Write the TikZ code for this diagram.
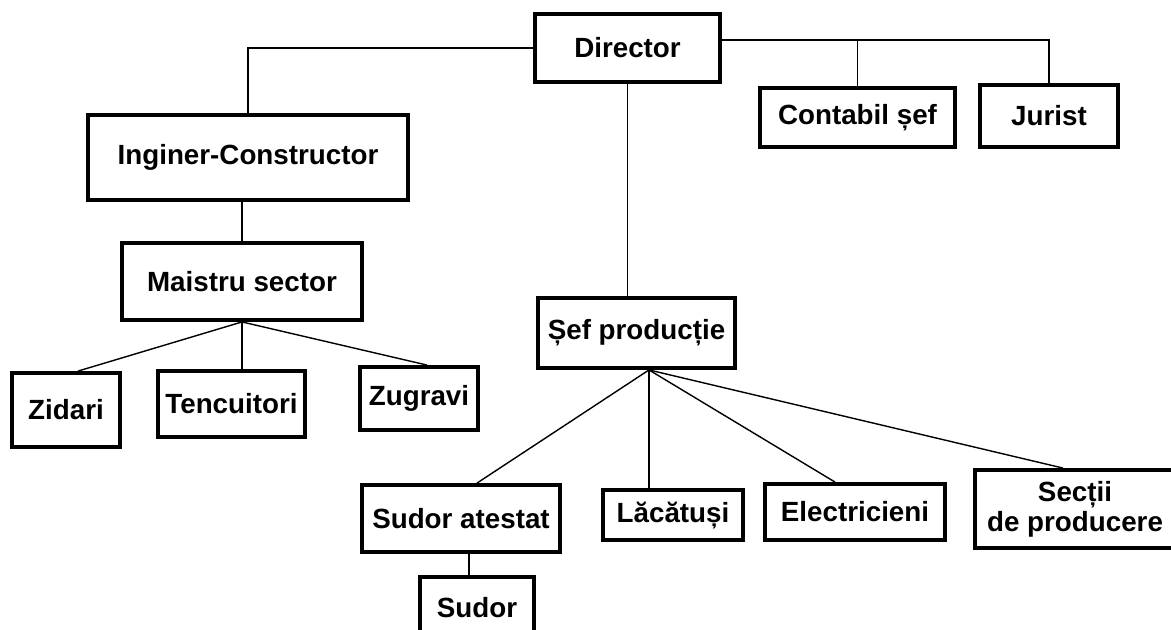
\documentclass[tikz,border=0pt]{standalone}
\usepackage{fontspec}
\setmainfont{Liberation Sans}
\usepackage{tikz}

\begin{document}
\begin{tikzpicture}[
  postbox/.style={draw, line width=2.2pt, inner sep=2pt, align=center, font=\fontsize{15.8}{17}\selectfont\bfseries},
  link/.style={line width=0.8pt}]
\useasboundingbox[fill=white] (0cm,0cm) rectangle (23.42cm,-12.58cm);
% top level
\node[postbox, minimum width=3.70cm, minimum height=1.36cm] (dir) at (12.55cm,-0.96cm) {Director};
\node[postbox, minimum width=6.40cm, minimum height=1.70cm] (ing) at (4.96cm,-3.15cm) {Inginer-Constructor};
\node[postbox, minimum width=3.90cm, minimum height=1.18cm] (cont) at (17.15cm,-2.35cm) {Contabil șef};
\node[postbox, minimum width=2.76cm, minimum height=1.24cm] (jur) at (20.98cm,-2.32cm) {Jurist};
\node[postbox, minimum width=4.80cm, minimum height=1.54cm] (mai) at (4.84cm,-5.63cm) {Maistru sector};
\node[postbox, minimum width=3.94cm, minimum height=1.40cm] (sef) at (12.73cm,-6.66cm) {Șef producție};
% workers
\node[postbox, minimum width=2.16cm, minimum height=1.48cm] (zid) at (1.32cm,-8.20cm) {Zidari};
\node[postbox, minimum width=2.94cm, minimum height=1.32cm] (ten) at (4.63cm,-8.08cm) {Tencuitori};
\node[postbox, minimum width=2.36cm, minimum height=1.26cm] (zug) at (8.38cm,-7.97cm) {Zugravi};
\node[postbox, minimum width=3.96cm, minimum height=1.34cm] (sudat) at (9.22cm,-10.37cm) {Sudor atestat};
\node[postbox, minimum width=2.80cm, minimum height=1.00cm] (lac) at (13.46cm,-10.30cm) {Lăcătuși};
\node[postbox, minimum width=3.60cm, minimum height=1.12cm] (ele) at (17.10cm,-10.24cm) {Electricieni};
\node[postbox, minimum width=4.00cm, minimum height=1.56cm] (sec) at (21.50cm,-10.18cm) {Secții\\de producere};
\node[postbox, minimum width=2.28cm, minimum height=1.24cm] (sud) at (9.54cm,-12.16cm) {Sudor};
% connectors
\coordinate (rline) at ([yshift=0.16cm]dir.east);
\draw[link] (dir.west) -| (ing.north);
\draw[link] (rline) -| (jur.north);
\draw[link] (cont.north) -- (cont.north |- rline);
\draw[link] (dir.south) -- (dir.south |- sef.north);
\draw[link] (mai.north) -- (mai.north |- ing.south);
\draw[link] (mai.south) -- ([xshift=0.24cm]zid.north);
\draw[link] (mai.south) -- (mai.south |- ten.north);
\draw[link] (mai.south) -- ([xshift=0.16cm]zug.north);
\coordinate (sfan) at ([xshift=0.25cm]sef.south);
\draw[link] (sfan) -- ([xshift=0.32cm]sudat.north);
\draw[link] (sfan) -- (sfan |- lac.north);
\draw[link] (sfan) -- ([xshift=-0.40cm]ele.north);
\draw[link] (sfan) -- ([xshift=-0.24cm]sec.north);
\draw[link] ([xshift=0.16cm]sudat.south) -- ([xshift=0.16cm]sudat.south |- sud.north);
\end{tikzpicture}
\end{document}
